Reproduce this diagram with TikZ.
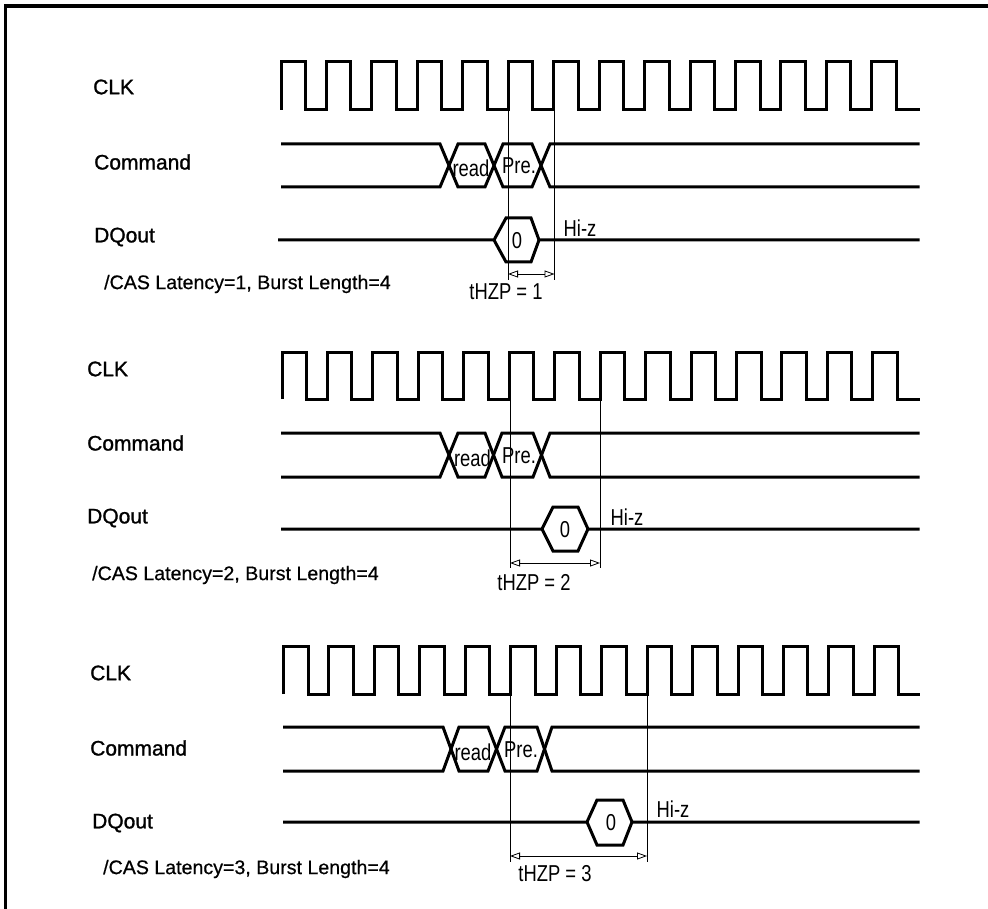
\documentclass[tikz,border=0pt]{standalone}
\usepackage{fontspec}
\setmainfont{Liberation Sans}
\newfontfamily\labfont[FakeBold=1.2]{Liberation Sans}
\newfontfamily\notefont[FakeBold=0.6]{Liberation Sans}
\usetikzlibrary{arrows.meta}
\tikzset{
 sigline/.style={line width=3pt,line join=miter},
 clkline/.style={line width=3pt,line join=miter},
 guide/.style={line width=1pt},
 dimline/.style={line width=0.8pt,{Triangle[open,length=10pt,width=7pt]}-{Triangle[open,length=10pt,width=7pt]}},
 lab/.style={anchor=west,inner sep=0pt,font=\labfont\fontsize{21}{21}\selectfont},
 notetext/.style={anchor=west,inner sep=0pt,font=\notefont\fontsize{19.6}{20}\selectfont},
 thintext/.style={inner sep=0pt,xscale=0.8,font=\fontsize{23}{23}\selectfont},
}
% clock: start x, high y, low y
\newcommand{\clockwave}[3]{%
  \draw[clkline] (#1,#3)
  \foreach \k in {0,...,13} {
    -- ({#1+45.45*\k},#2) -- ({#1+45.45*\k+24.5},#2) -- ({#1+45.45*\k+24.5},#3) -- ({#1+45.45*\k+45.45},#3)
  } ;
  \draw[clkline] ({#1+45.45*13+24.5},#3) -- (919.5,#3);
}
% command bus: start x, top y, bottom y, a,b,c,d,e,f = transition x
\newcommand{\cmdwave}[9]{%
  \draw[sigline] (#1,#2) -- (#4,#2) -- (#5,#3) -- (#6,#3) -- (#7,#2) -- (#8,#2) -- (#9,#3) -- (919.5,#3);
  \draw[sigline] (#1,#3) -- (#4,#3) -- (#5,#2) -- (#6,#2) -- (#7,#3) -- (#8,#3) -- (#9,#2) -- (919.5,#2);
}
% data out: start x, y, top, bottom, tipL, cornerL, cornerR, tipR
\newcommand{\dqwave}[8]{%
  \draw[sigline] (#1,#2) -- (#5,#2) -- (#6,#3) -- (#7,#3) -- (#8,#2) -- (919.5,#2);
  \draw[sigline] (#5,#2) -- (#6,#4) -- (#7,#4) -- (#8,#2);
}
\begin{document}
\begin{tikzpicture}[x=1pt,y=-1pt]
\useasboundingbox (0,0) rectangle (988,909);
\draw[line width=3.6pt] (5.5,909) -- (5.5,6) -- (988,6);

% --- panel 1
\node[lab] (clkA) at (93,87) {CLK};
\node[lab] (cmdA) at (94,162) {Command};
\node[lab] (dqA) at (94,237) {DQout};
\node[notetext] (noteA) at (104,284) {/CAS Latency=1, Burst Length=4};
\clockwave{281}{62}{110}
\cmdwave{281}{144}{187}{440}{458}{485}{503}{532}{550}
\dqwave{278}{240}{218}{262}{494}{506}{531}{539}
\node[thintext] (readA) at (471,168) {read};
\node[thintext] (preA) at (519,166) {Pre.};
\node[thintext] (zeroA) at (517,241) {0};
\node[thintext] (hizA) at (580,228) {Hi-z};
\node[thintext] (tA) at (506,292) {tHZP = 1};
\coordinate (aTop) at (508,110);
\coordinate (aBot) at (508,280);
\coordinate (bTop) at (554.5,110);
\coordinate (bBot) at (554.5,280);
\draw[guide] (aTop) -- (aBot) (bTop) -- (bBot);
\coordinate (aDim) at (508,274);
\coordinate (bDim) at (554.5,274);
\draw[dimline] (aDim) -- (bDim);

% --- panel 2
\node[lab] (clkB) at (87,369) {CLK};
\node[lab] (cmdB) at (87,443) {Command};
\node[lab] (dqB) at (87,518) {DQout};
\node[notetext] (noteB) at (92,575) {/CAS Latency=2, Burst Length=4};
\clockwave{282}{352}{399}
\cmdwave{281}{433}{477}{440}{458}{485}{502}{533}{550}
\dqwave{281}{529}{507}{551}{542}{553}{578}{588}
\node[thintext] (readB) at (472.5,458) {read};
\node[thintext] (preB) at (519,456) {Pre.};
\node[thintext] (zeroB) at (565,530) {0};
\node[thintext] (hizB) at (627,517) {Hi-z};
\node[thintext] (tB) at (534,583) {tHZP = 2};
\coordinate (cTop) at (510,399);
\coordinate (cBot) at (510,568);
\coordinate (dTop) at (600,399);
\coordinate (dBot) at (600,568);
\draw[guide] (cTop) -- (cBot) (dTop) -- (dBot);
\coordinate (cDim) at (510,563);
\coordinate (dDim) at (600,563);
\draw[dimline] (cDim) -- (dDim);

% --- panel 3
\node[lab] (clkC) at (90,673) {CLK};
\node[lab] (cmdC) at (90,748) {Command};
\node[lab] (dqC) at (92,823) {DQout};
\node[notetext] (noteC) at (103,869) {/CAS Latency=3, Burst Length=4};
\clockwave{283.5}{646}{694}
\cmdwave{283}{727}{771}{443}{459}{488}{505}{537}{552}
\dqwave{283}{822}{800}{845}{587}{597}{623}{632}
\node[thintext] (readC) at (473,752) {read};
\node[thintext] (preC) at (521,750) {Pre.};
\node[thintext] (zeroC) at (611,823) {0};
\node[thintext] (hizC) at (673,809) {Hi-z};
\node[thintext] (tC) at (555,874) {tHZP = 3};
\coordinate (eTop) at (510,694);
\coordinate (eBot) at (510,862);
\coordinate (fTop) at (647,694);
\coordinate (fBot) at (647,862);
\draw[guide] (eTop) -- (eBot) (fTop) -- (fBot);
\coordinate (eDim) at (510,856);
\coordinate (fDim) at (647,856);
\draw[dimline] (eDim) -- (fDim);
\end{tikzpicture}
\end{document}
